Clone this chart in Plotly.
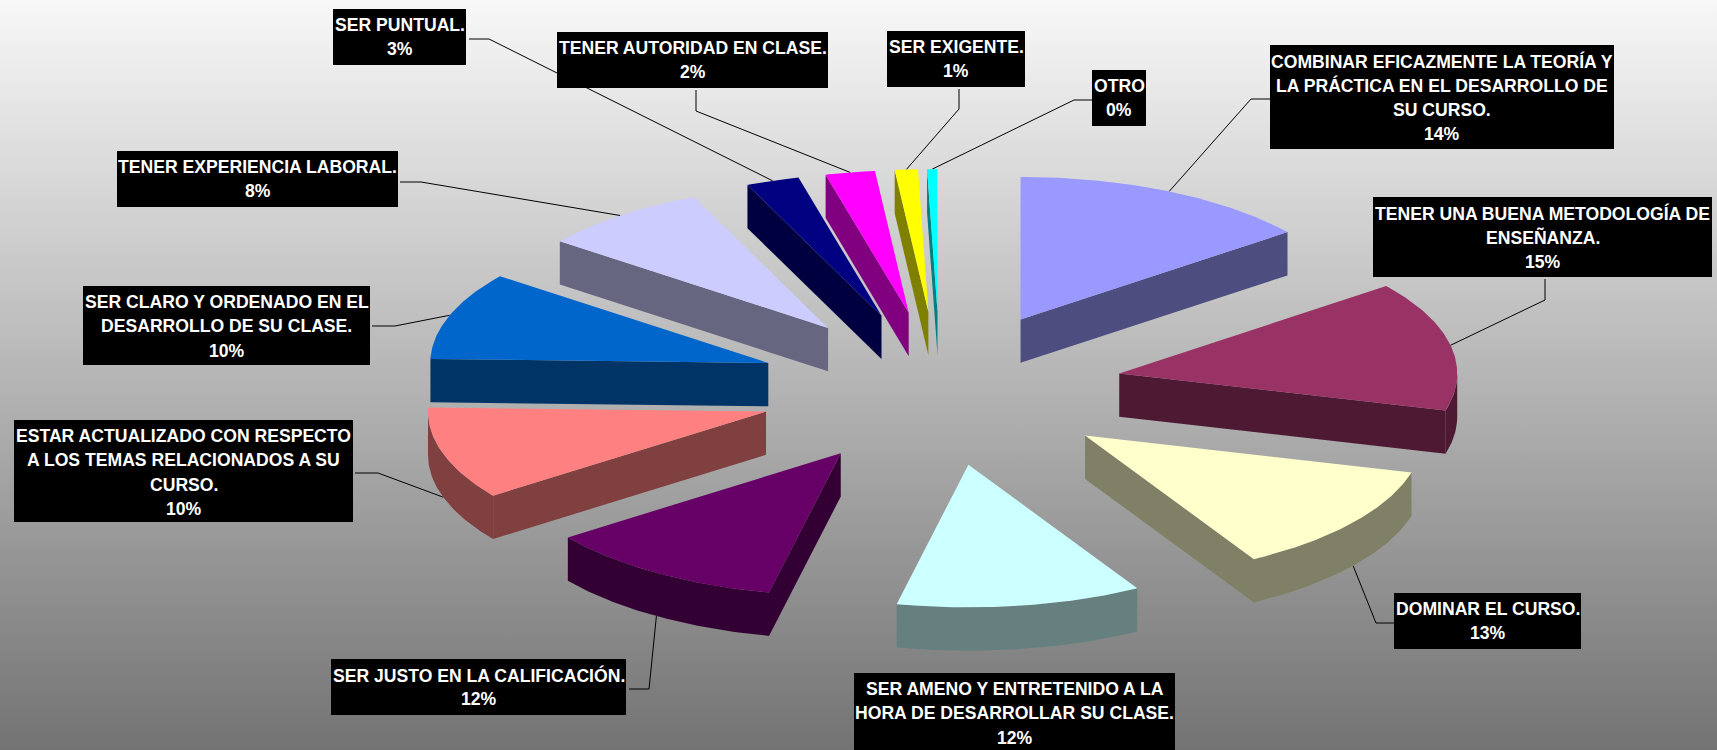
import math
import numpy as np
import plotly.graph_objects as go

# Chart data: one entry per slice, clockwise from twelve o'clock
categories = [
    "COMBINAR EFICAZMENTE LA TEORÍA Y|LA PRÁCTICA EN EL DESARROLLO DE|SU CURSO.",
    "TENER UNA BUENA METODOLOGÍA DE|ENSEÑANZA.",
    "DOMINAR EL CURSO.",
    "SER AMENO Y ENTRETENIDO A LA|HORA DE DESARROLLAR SU CLASE.",
    "SER JUSTO EN LA CALIFICACIÓN.",
    "ESTAR ACTUALIZADO CON RESPECTO|A LOS TEMAS RELACIONADOS A SU|CURSO.",
    "SER CLARO Y ORDENADO EN EL|DESARROLLO DE SU CLASE.",
    "TENER EXPERIENCIA LABORAL.",
    "SER PUNTUAL.",
    "TENER AUTORIDAD EN CLASE.",
    "SER EXIGENTE.",
    "OTRO",
]
shares = [14.49, 14.68, 12.5, 11.73, 11.55, 10.49, 9.96, 8.1, 2.54, 2.36, 1.1, 0.49]
top_colors = ["#9999FF", "#993366", "#FFFFCC", "#CCFFFF", "#660066", "#FF8080",
              "#0066CC", "#CCCCFF", "#000080", "#FF00FF", "#FFFF00", "#00FFFF"]
side_colors = ["#4D4D80", "#4D1933", "#808066", "#668080", "#330033", "#804040",
               "#003366", "#666680", "#000040", "#800080", "#808000", "#008080"]

# Page size and pie projection: the unit pie is squashed by the axis scales
WIDTH, HEIGHT = 1717, 750
CX, CY = 940.3, 388.7
RX, RY = 338.0, 142.6
EXPLODE = 0.54
DEPTH = 43.3 / RY


def data_x(px):
    return (px - CX) / RX


def data_y(py):
    return (CY - py) / RY


# Label boxes in page pixels: left, top, right, bottom
label_boxes = [
    (1270, 45, 1614, 149), (1373, 197, 1712, 277), (1394, 593, 1581, 649),
    (854, 673, 1175, 760), (331, 659, 626, 715), (14, 420, 353, 522),
    (83, 286, 370, 365), (117, 151, 398, 207), (333, 9, 466, 65),
    (557, 32, 828, 88), (887, 31, 1025, 87), (1092, 70, 1146, 126),
]
# Leader line waypoints in page pixels, from the box towards the slice
leader_paths = [
    [(1270, 99), (1251, 99)], [(1545, 279), (1545, 300)], [(1394, 623), (1376, 623)],
    None, [(629, 689), (649, 689)], [(355, 473), (378, 473)],
    [(372, 326), (395, 326)], [(400, 182), (421, 182)], [(469, 39), (489, 39)],
    [(696, 90), (696, 111)], [(959, 89), (959, 109)], [(1092, 100), (1074, 100)],
]

total = sum(shares)
edges = np.cumsum([0.0] + shares) / total * 2 * math.pi


def arc(center, start, end, drop=0.0):
    t = np.linspace(start, end, max(2, int(abs(end - start) * 90) + 2))
    return center[0] + np.sin(t), center[1] + np.cos(t) - drop


def polygon(xs, ys, color, name):
    return go.Scatter(x=np.append(xs, xs[0]), y=np.append(ys, ys[0]), mode="lines",
                      fill="toself", fillcolor=color, line=dict(width=0),
                      name=name, hoverinfo="name", showlegend=False)


slices = []
for i, (start, end) in enumerate(zip(edges[:-1], edges[1:])):
    mid = (start + end) / 2
    apex = (EXPLODE * math.sin(mid), EXPLODE * math.cos(mid))
    slices.append(dict(i=i, start=start, end=end, mid=mid, apex=apex))

fig = go.Figure()

# Page background, light at the top and darkening downwards
x_lo, x_hi = data_x(0), data_x(WIDTH)
y_lo, y_hi = data_y(HEIGHT), data_y(0)
fig.add_trace(go.Scatter(
    x=[x_lo, x_hi, x_hi, x_lo, x_lo], y=[y_lo, y_lo, y_hi, y_hi, y_lo],
    mode="lines", line=dict(width=0), fill="toself", hoverinfo="skip", showlegend=False,
    fillgradient=dict(type="vertical", colorscale=[[0, "#737373"], [1, "#F8F8F8"]],
                      start=y_lo, stop=y_hi),
))

# Leader lines sit under the label boxes and end on each slice's mid-angle;
# on the front half of the pie they stop at the lower edge of the rim
for s, path in zip(slices, leader_paths):
    if path is None:
        continue
    ax, ay = s["apex"]
    ex, ey = ax + math.sin(s["mid"]), ay + math.cos(s["mid"])
    if math.cos(s["mid"]) < 0:
        ey -= DEPTH
    xs = [data_x(p[0]) for p in path] + [ex]
    ys = [data_y(p[1]) for p in path] + [ey]
    fig.add_trace(go.Scatter(x=xs, y=ys, mode="lines", line=dict(color="#000000", width=1),
                             hoverinfo="skip", showlegend=False))

# Slices, painted from the back of the pie to the front
for s in sorted(slices, key=lambda d: -d["apex"][1]):
    i, start, end, apex = s["i"], s["start"], s["end"], s["apex"]
    name = categories[i].replace("|", " ")
    side = side_colors[i]
    # Radial wall that faces the viewer
    for angle, visible in ((start, math.sin(start) < 0), (end, math.sin(end) > 0)):
        if visible:
            ox, oy = apex[0] + math.sin(angle), apex[1] + math.cos(angle)
            fig.add_trace(polygon(
                np.array([apex[0], ox, ox, apex[0]]),
                np.array([apex[1], oy, oy - DEPTH, apex[1] - DEPTH]), side, name))
    # Outer rim where it turns towards the viewer
    lo, hi = max(start, math.pi / 2), min(end, 3 * math.pi / 2)
    if lo < hi:
        tx, ty = arc(apex, lo, hi)
        bx, by = arc(apex, hi, lo, DEPTH)
        fig.add_trace(polygon(np.concatenate([tx, bx]), np.concatenate([ty, by]), side, name))
    # Top face
    tx, ty = arc(apex, start, end)
    fig.add_trace(polygon(np.concatenate([[apex[0]], tx]), np.concatenate([[apex[1]], ty]),
                          top_colors[i], name))

# Black label boxes with category text and rounded percentage
shapes, annotations = [], []
for name, share, box in zip(categories, shares, label_boxes):
    left, top, right, bottom = box
    shapes.append(dict(type="rect", xref="x", yref="y", layer="above",
                       x0=data_x(left), x1=data_x(right), y0=data_y(top), y1=data_y(bottom),
                       fillcolor="#000000", line=dict(width=0)))
    lines = name.split("|") + [f"{math.floor(share + 0.5)}%"]
    for n, line in enumerate(lines):
        annotations.append(dict(
            x=data_x((left + right) / 2), y=data_y(top + 16 + 24.4 * n),
            xref="x", yref="y", text=f"<b>{line}</b>", showarrow=False,
            xanchor="center", yanchor="middle", align="center",
            font=dict(family="Liberation Sans, Arial, sans-serif", size=17.6, color="#FFFFFF"),
        ))

fig.update_layout(
    width=WIDTH, height=HEIGHT, margin=dict(l=0, r=0, t=0, b=0),
    paper_bgcolor="#BBBBBB", plot_bgcolor="rgba(0,0,0,0)",
    xaxis=dict(range=[x_lo, x_hi], visible=False, fixedrange=True),
    yaxis=dict(range=[y_lo, y_hi], visible=False, fixedrange=True),
    shapes=shapes, annotations=annotations, showlegend=False,
)
fig.write_html("out.html")
